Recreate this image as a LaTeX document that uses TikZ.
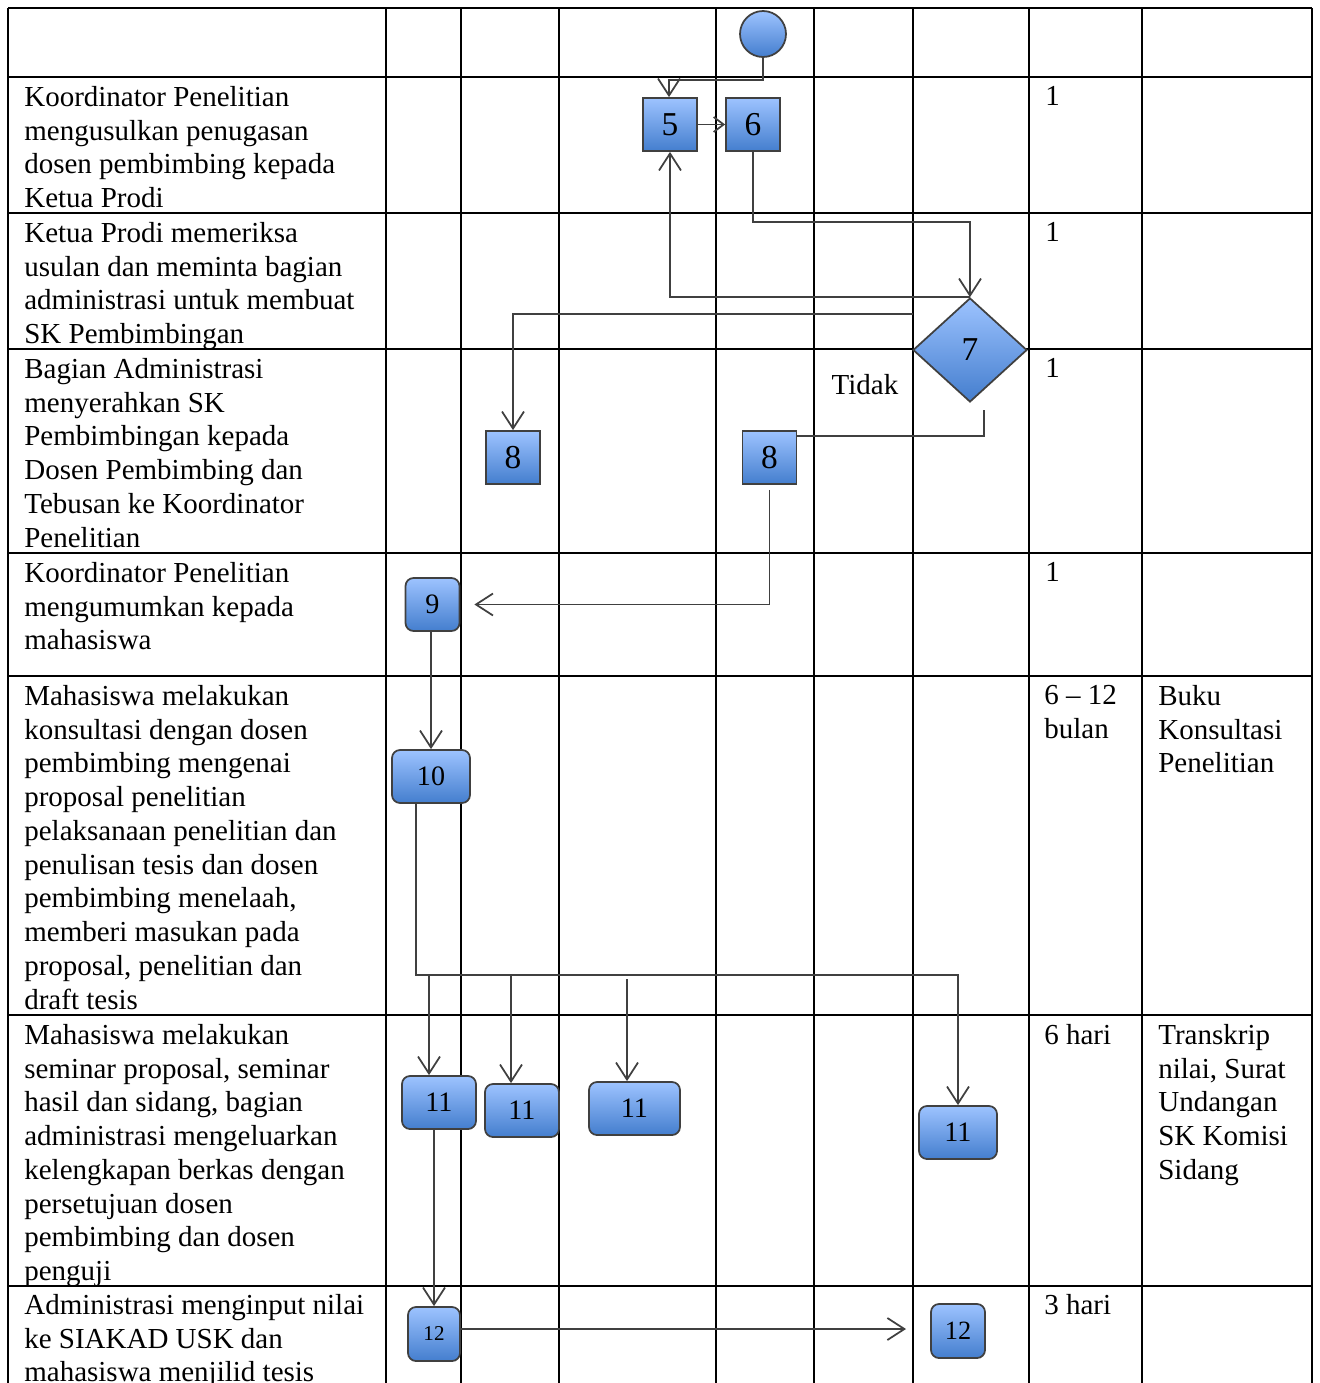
\documentclass[tikz,border=0pt]{standalone}
\usepackage{fontspec}
\setmainfont{Liberation Serif}
\usetikzlibrary{shapes.geometric,arrows.meta,calc}

\definecolor{boxtop}{RGB}{157,195,255}
\definecolor{boxbot}{RGB}{68,126,206}
\definecolor{boxline}{RGB}{64,64,64}
\definecolor{flowline}{RGB}{64,64,64}

\begin{document}
\begin{tikzpicture}[x=0.02cm, y=-0.02cm,
  grid/.style={line width=1pt},
  txt/.style={anchor=north west, inner sep=0pt, align=left, font=\fontsize{16.5}{19.2}\selectfont},
  stepbox/.style={draw=boxline, line width=1pt, top color=boxtop, bottom color=boxbot, minimum width=1.08cm, minimum height=1.06cm, inner sep=0pt, font=\fontsize{19}{19}\selectfont},
  rbox/.style={stepbox, rounded corners=0.16cm, font=\fontsize{16}{16}\selectfont},
  decide/.style={diamond, draw=boxline, line width=1pt, top color=boxtop, bottom color=boxbot, minimum width=2.28cm, minimum height=2.08cm, inner sep=0pt, font=\fontsize{19}{19}\selectfont},
  flow/.style={draw=flowline, line width=1pt},
  >={Straight Barb[length=3.4mm,width=4.4mm]}]
\useasboundingbox (0,0) rectangle (1319,1383);

% table
\foreach \yy in {8,77,213,349,553,676,1015,1286}
  \draw[grid] (8,\yy) -- (1312,\yy);
\foreach \xx in {8,386,461,559,716,814,913,1029,1142,1312}
  \draw[grid] (\xx,8) -- (\xx,1383);

\node[txt] (t1) at (24,86) {Koordinator Penelitian\\mengusulkan penugasan\\dosen pembimbing kepada\\Ketua Prodi};
\node[txt] (t2) at (24,222) {Ketua Prodi memeriksa\\usulan dan meminta bagian\\administrasi untuk membuat\\SK Pembimbingan};
\node[txt] (t3) at (24,358) {Bagian Administrasi\\menyerahkan SK\\Pembimbingan kepada\\Dosen Pembimbing dan\\Tebusan ke Koordinator\\Penelitian};
\node[txt] (t4) at (24,562) {Koordinator Penelitian\\mengumumkan kepada\\mahasiswa};
\node[txt] (t5) at (24,685) {Mahasiswa melakukan\\konsultasi dengan dosen\\pembimbing mengenai\\proposal penelitian\\pelaksanaan penelitian dan\\penulisan tesis dan dosen\\pembimbing menelaah,\\memberi masukan pada\\proposal, penelitian dan\\draft tesis};
\node[txt] (t6) at (24,1024) {Mahasiswa melakukan\\seminar proposal, seminar\\hasil dan sidang, bagian\\administrasi mengeluarkan\\kelengkapan berkas dengan\\persetujuan dosen\\pembimbing dan dosen\\penguji};
\node[txt] (t7) at (24,1294) {Administrasi menginput nilai\\ke SIAKAD USK dan\\mahasiswa menjilid tesis};

\node[txt] (w1) at (1045,86) {1};
\node[txt] (w2) at (1045,222) {1};
\node[txt] (w3) at (1045,358) {1};
\node[txt] (w4) at (1045,562) {1};
\node[txt] (w5) at (1044,685) {6 -- 12\\bulan};
\node[txt] (w6) at (1044,1024) {6 hari};
\node[txt] (w7) at (1044,1294) {3 hari};
\node[txt] (o5) at (1158,685) {Buku\\Konsultasi\\Penelitian};
\node[txt] (o6) at (1158,1024) {Transkrip\\nilai, Surat\\Undangan\\SK Komisi\\Sidang};

% flow
\node[circle, draw=boxline, line width=1pt, top color=boxtop, bottom color=boxbot, minimum size=0.92cm, inner sep=0pt] (start) at (763,34) {};
\node[stepbox] (b5) at (670,124.5) {5};
\node[stepbox] (b6) at (753,124.5) {6};
\node[decide] (d7) at (970,350) {7};
\node[stepbox] (b8a) at (513,457.5) {8};
\node[stepbox] (b8b) at (769.5,457.5) {8};
\node[rbox] (b9) at (432.5,604.5) {9};
\node[rbox, minimum width=1.56cm] (b10) at (431,776.5) {10};
\node[rbox, minimum width=1.48cm] (b11a) at (439,1102.5) {11};
\node[rbox, minimum width=1.48cm] (b11b) at (522,1110.5) {11};
\node[rbox, minimum width=1.82cm] (b11c) at (634.5,1108.5) {11};
\node[rbox, minimum width=1.56cm] (b11d) at (958,1132.5) {11};
\node[rbox, minimum width=1.04cm, minimum height=1.08cm, font=\fontsize{12}{12}\selectfont] (b12a) at (434,1334) {12};
\node[rbox, minimum height=1.08cm, font=\fontsize{15}{15}\selectfont] (b12b) at (958,1331) {12};
\node[font=\fontsize{16.5}{19.2}\selectfont] (tidak) at (865,385) {Tidak};

\coordinate (k1) at (669,80);
\draw[flow,->] (start.south) |- (k1) -- (k1 |- b5.north);
\draw[flow,-{Straight Barb[length=2mm,width=3mm]}] (b5.east) -- (b6.west);
\coordinate (k2) at (970,222);
\draw[flow,->] (b6.south) |- (k2) -- (d7.north);
\draw[flow,->] (d7.north) -| (b5.south);
\coordinate (k5) at (913,314);
\draw[flow,->] (k5) -| (b8a.north);
\coordinate (k6) at (984,410);
\draw[flow] (k6) |- ($(b8b.north east)+(0,6)$);
\draw[flow,->] ($(b8b.south)+(0,5)$) |- ($(b9.east)+(14,0)$);
\draw[flow,->] (b9.south -| b10.north) -- (b10.north);
\coordinate (k10) at (416,975);
\draw[flow,->] (b10.south -| k10) -- (k10) -| (b11d.north);
\coordinate (j11a) at (429,975);
\coordinate (j11b) at (511,975);
\coordinate (j11c) at (627,979);
\draw[flow,->] (j11a) -- (j11a |- b11a.north);
\draw[flow,->] (j11b) -- (j11b |- b11b.north);
\draw[flow,->] (j11c) -- (j11c |- b11c.north);
\draw[flow,->] (b11a.south -| b12a.north) -- (b12a.north);
\coordinate (k12) at (906,1329);
\draw[flow,->] (b12a.east |- k12) -- (k12);

\end{tikzpicture}
\end{document}
